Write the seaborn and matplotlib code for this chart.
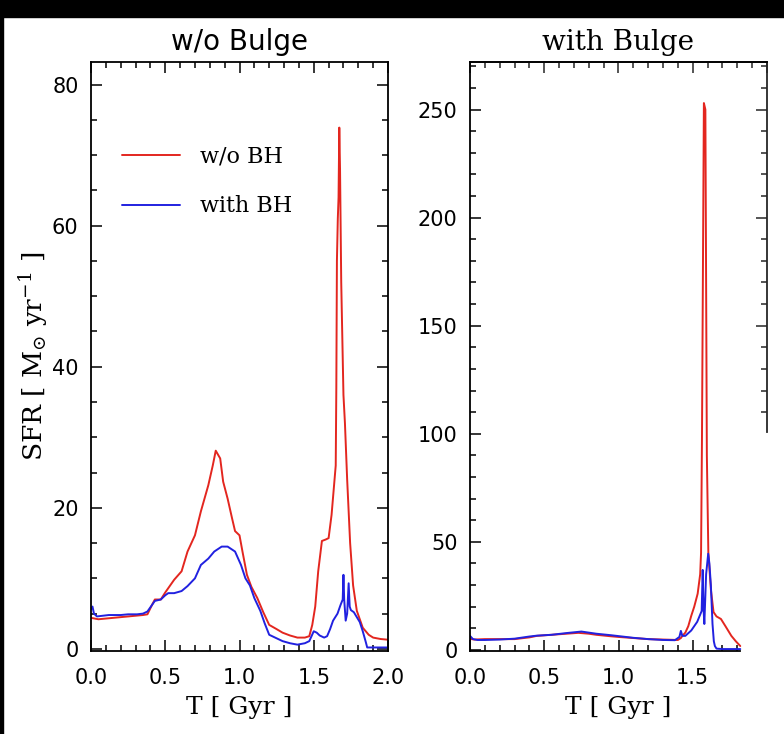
import numpy as np
import pandas as pd
import matplotlib
matplotlib.use("Agg")
import matplotlib.pyplot as plt
import seaborn as sns
from matplotlib.ticker import MultipleLocator, FixedLocator, FormatStrFormatter
from matplotlib.patches import Rectangle

# ---- data ----
# left panel: w/o Bulge
t_nb_red = [0.00, 0.05, 0.10, 0.15, 0.20, 0.25, 0.30, 0.35, 0.38, 0.41, 0.43, 0.47, 0.50,
            0.52, 0.56, 0.61, 0.65, 0.70, 0.74, 0.79, 0.82, 0.84, 0.87, 0.89, 0.92, 0.95,
            0.97, 1.00, 1.02, 1.05, 1.08, 1.12, 1.16, 1.20, 1.25, 1.29, 1.34, 1.39, 1.44,
            1.47, 1.49, 1.51, 1.53, 1.555, 1.58, 1.60, 1.62, 1.64, 1.648, 1.652, 1.656,
            1.662, 1.667, 1.672, 1.677, 1.685, 1.70, 1.71, 1.725, 1.745, 1.765, 1.79,
            1.83, 1.87, 1.90, 1.95, 2.00]
sfr_nb_red = [4.4, 4.2, 4.3, 4.4, 4.5, 4.6, 4.7, 4.8, 4.9, 6.2, 7.0, 7.0, 8.0,
              8.6, 9.8, 11.0, 13.8, 16.1, 19.5, 23.2, 26.0, 28.1, 27.0, 23.7, 21.3, 18.5,
              16.7, 16.1, 13.8, 10.5, 8.8, 7.2, 5.2, 3.4, 2.8, 2.3, 1.9, 1.6, 1.6,
              1.8, 3.4, 6.0, 11.0, 15.3, 15.5, 15.7, 19.0, 24.0, 26.0, 37.0, 55.0,
              61.0, 64.0, 73.9, 68.0, 52.0, 36.0, 32.0, 24.0, 15.0, 9.0, 5.4,
              3.0, 2.0, 1.6, 1.4, 1.3]

t_nb_blue = [0.00, 0.01, 0.02, 0.04, 0.08, 0.12, 0.20, 0.25, 0.31, 0.35, 0.38, 0.41, 0.43,
             0.47, 0.50, 0.52, 0.56, 0.61, 0.65, 0.70, 0.74, 0.79, 0.83, 0.88, 0.92, 0.97,
             1.01, 1.04, 1.07, 1.10, 1.14, 1.17, 1.20, 1.25, 1.29, 1.34, 1.39, 1.44, 1.47,
             1.50, 1.52, 1.54, 1.57, 1.59, 1.61, 1.63, 1.66, 1.68, 1.695, 1.700, 1.705,
             1.715, 1.725, 1.735, 1.742, 1.75, 1.77, 1.79, 1.81, 1.83, 1.85, 1.86, 1.90, 2.00]
sfr_nb_blue = [5.6, 6.0, 5.0, 4.6, 4.7, 4.8, 4.8, 4.9, 4.9, 5.0, 5.3, 6.2, 6.8,
               7.0, 7.6, 7.9, 7.9, 8.2, 8.9, 10.0, 11.9, 12.8, 13.8, 14.5, 14.5, 13.8,
               11.9, 10.0, 9.0, 7.2, 5.4, 3.6, 2.0, 1.5, 1.1, 0.8, 0.6, 0.8, 1.1,
               2.5, 2.3, 1.9, 1.6, 1.8, 2.8, 4.0, 5.0, 6.2, 7.0, 10.5, 7.0,
               4.0, 5.0, 9.3, 6.0, 5.5, 5.2, 4.5, 3.8, 2.5, 1.0, 0.2, 0.2, 0.2]

# right panel: with Bulge
t_b_red = [0.00, 0.03, 0.10, 0.20, 0.30, 0.40, 0.45, 0.55, 0.65, 0.73, 0.80, 0.85, 0.95,
           1.00, 1.10, 1.20, 1.30, 1.40, 1.42, 1.43, 1.45, 1.47, 1.49, 1.51, 1.533, 1.55,
           1.556, 1.562, 1.575, 1.585, 1.595, 1.605, 1.622, 1.64, 1.66, 1.69, 1.72, 1.76,
           1.79, 1.82]
sfr_b_red = [5.1, 4.8, 5.0, 5.0, 5.0, 5.8, 6.5, 7.0, 7.5, 7.9, 7.5, 7.0, 6.3,
             6.0, 5.5, 5.0, 4.8, 4.6, 5.5, 6.5, 8.0, 11.0, 15.8, 20.0, 26.0, 35.0,
             45.0, 97.0, 253.0, 250.0, 90.0, 45.0, 28.0, 17.5, 15.5, 14.3, 11.0, 6.5,
             4.0, 1.8]

t_b_blue = [0.00, 0.02, 0.05, 0.10, 0.20, 0.30, 0.40, 0.45, 0.55, 0.65, 0.75, 0.85, 0.95,
            1.00, 1.10, 1.20, 1.30, 1.38, 1.41, 1.42, 1.43, 1.45, 1.49, 1.53, 1.56, 1.567,
            1.572, 1.578, 1.59, 1.604, 1.612, 1.622, 1.633, 1.642, 1.649, 1.66, 1.70, 1.82]
sfr_b_blue = [6.5, 5.0, 4.6, 4.6, 4.8, 5.2, 6.2, 6.6, 7.0, 7.8, 8.5, 7.5, 6.8,
              6.4, 5.6, 5.0, 4.6, 4.5, 6.0, 8.8, 6.5, 6.5, 9.0, 13.0, 18.0, 37.0,
              20.0, 12.0, 35.0, 44.5, 40.0, 30.0, 12.0, 4.0, 1.8, 0.6, 0.4, 0.4]

runs = ["w/o BH", "with BH"]
colors = {"w/o BH": "#e3261f", "with BH": "#2121e0"}


def make_df(t_red, s_red, t_blue, s_blue):
    a = pd.DataFrame({"T": t_red, "SFR": s_red, "run": runs[0]})
    b = pd.DataFrame({"T": t_blue, "SFR": s_blue, "run": runs[1]})
    return pd.concat([a, b], ignore_index=True)


df_left = make_df(t_nb_red, sfr_nb_red, t_nb_blue, sfr_nb_blue)
df_right = make_df(t_b_red, sfr_b_red, t_b_blue, sfr_b_blue)

sns.set_style("ticks")
plt.rcParams["font.family"] = ["DejaVu Sans"]
plt.rcParams["mathtext.fontset"] = "dejavuserif"
plt.rcParams["text.color"] = "black"
plt.rcParams["axes.labelcolor"] = "black"
plt.rcParams["axes.titlecolor"] = "black"

W, H = 784, 734
fig = plt.figure(figsize=(W / 100, H / 100), dpi=100)
ax1 = fig.add_axes([91 / W, (H - 651) / H, 297 / W, 589 / H])
ax2 = fig.add_axes([470 / W, (H - 651) / H, 297 / W, 589 / H])

sns.lineplot(data=df_left, x="T", y="SFR", hue="run", palette=colors, estimator=None,
             sort=False, linewidth=1.4, ax=ax1)
sns.lineplot(data=df_right, x="T", y="SFR", hue="run", palette=colors, estimator=None,
             sort=False, linewidth=1.4, ax=ax2, legend=False)

serif = ["DejaVu Serif"]

for ax in (ax1, ax2):
    for s in ax.spines.values():
        s.set_linewidth(1.3)
        s.set_color("black")
    ax.tick_params(which="both", direction="in", colors="black", labelsize=15, width=1.1)
    ax.tick_params(which="major", length=8)
    ax.tick_params(which="minor", length=4)
    ax.tick_params(axis="y", pad=9)
    ax.tick_params(axis="x", pad=12)
    ax.xaxis.set_major_formatter(FormatStrFormatter("%.1f"))
    ax.set_xlabel("T [ Gyr ]", family=serif, fontsize=18, labelpad=6)
    ax.set_ylabel("")

# left panel
ax1.set_xlim(0, 2.0)
ax1.set_ylim(-0.3, 83.2)
ax1.xaxis.set_major_locator(MultipleLocator(0.5))
ax1.xaxis.set_minor_locator(MultipleLocator(0.1))
ax1.yaxis.set_major_locator(FixedLocator([0, 20, 40, 60, 80]))
ax1.yaxis.set_minor_locator(MultipleLocator(5))
ax1.tick_params(which="both", top=True, right=True)
ax1.set_title("w/o Bulge", fontsize=20, pad=9, family=["DejaVu Sans"])
ax1.set_ylabel("SFR [ M$_{\\odot}$ yr$^{-1}$ ]", family=serif, fontsize=19, labelpad=1)

handles, labels = ax1.get_legend_handles_labels()
ax1.legend(handles, labels, loc="upper left", bbox_to_anchor=(0.104, 0.858),
           frameon=False, borderaxespad=0, borderpad=0, handlelength=2.6,
           handletextpad=0.9, labelspacing=1.25, prop={"family": "DejaVu Serif", "size": 16})

# right panel (lower right part of the frame is cut off in the original)
ax2.set_xlim(0, 2.0)
ax2.set_ylim(-0.5, 272)
ax2.xaxis.set_major_locator(FixedLocator([0.0, 0.5, 1.0, 1.5]))
ax2.xaxis.set_minor_locator(FixedLocator(np.arange(0.1, 1.81, 0.1)))
ax2.yaxis.set_major_locator(FixedLocator([0, 50, 100, 150, 200, 250]))
ax2.yaxis.set_minor_locator(MultipleLocator(10))
ax2.tick_params(which="both", top=False, right=False)
ax2.spines["bottom"].set_bounds(0, 1.82)
ax2.spines["right"].set_visible(False)
ax2.set_title("with Bulge", fontsize=20, pad=9, family=serif)

secx = ax2.secondary_xaxis("top")
secx.xaxis.set_major_locator(FixedLocator([0.0, 0.5, 1.0, 1.5, 2.0]))
secx.xaxis.set_minor_locator(MultipleLocator(0.1))
secx.tick_params(which="both", direction="in", labeltop=False, width=1.1)
secx.tick_params(which="major", length=8)
secx.tick_params(which="minor", length=4)
secx.spines["top"].set_linewidth(1.3)

secy = ax2.secondary_yaxis("right")
secy.yaxis.set_major_locator(FixedLocator([150, 200, 250]))
secy.yaxis.set_minor_locator(FixedLocator(np.arange(110, 271, 10)))
secy.tick_params(which="both", direction="in", labelright=False, width=1.1)
secy.tick_params(which="major", length=8)
secy.tick_params(which="minor", length=4)
secy.spines["right"].set_linewidth(1.3)
secy.spines["right"].set_bounds(101, 272)

# black video border at top and left edge
fig.patches.append(Rectangle((0, 1 - 17 / H), 1, 17 / H, transform=fig.transFigure,
                             color="black", zorder=10))
fig.patches.append(Rectangle((0, 0), 3 / W, 1, transform=fig.transFigure,
                             color="black", zorder=10))

fig.savefig("out.png", dpi=100, facecolor="white")
